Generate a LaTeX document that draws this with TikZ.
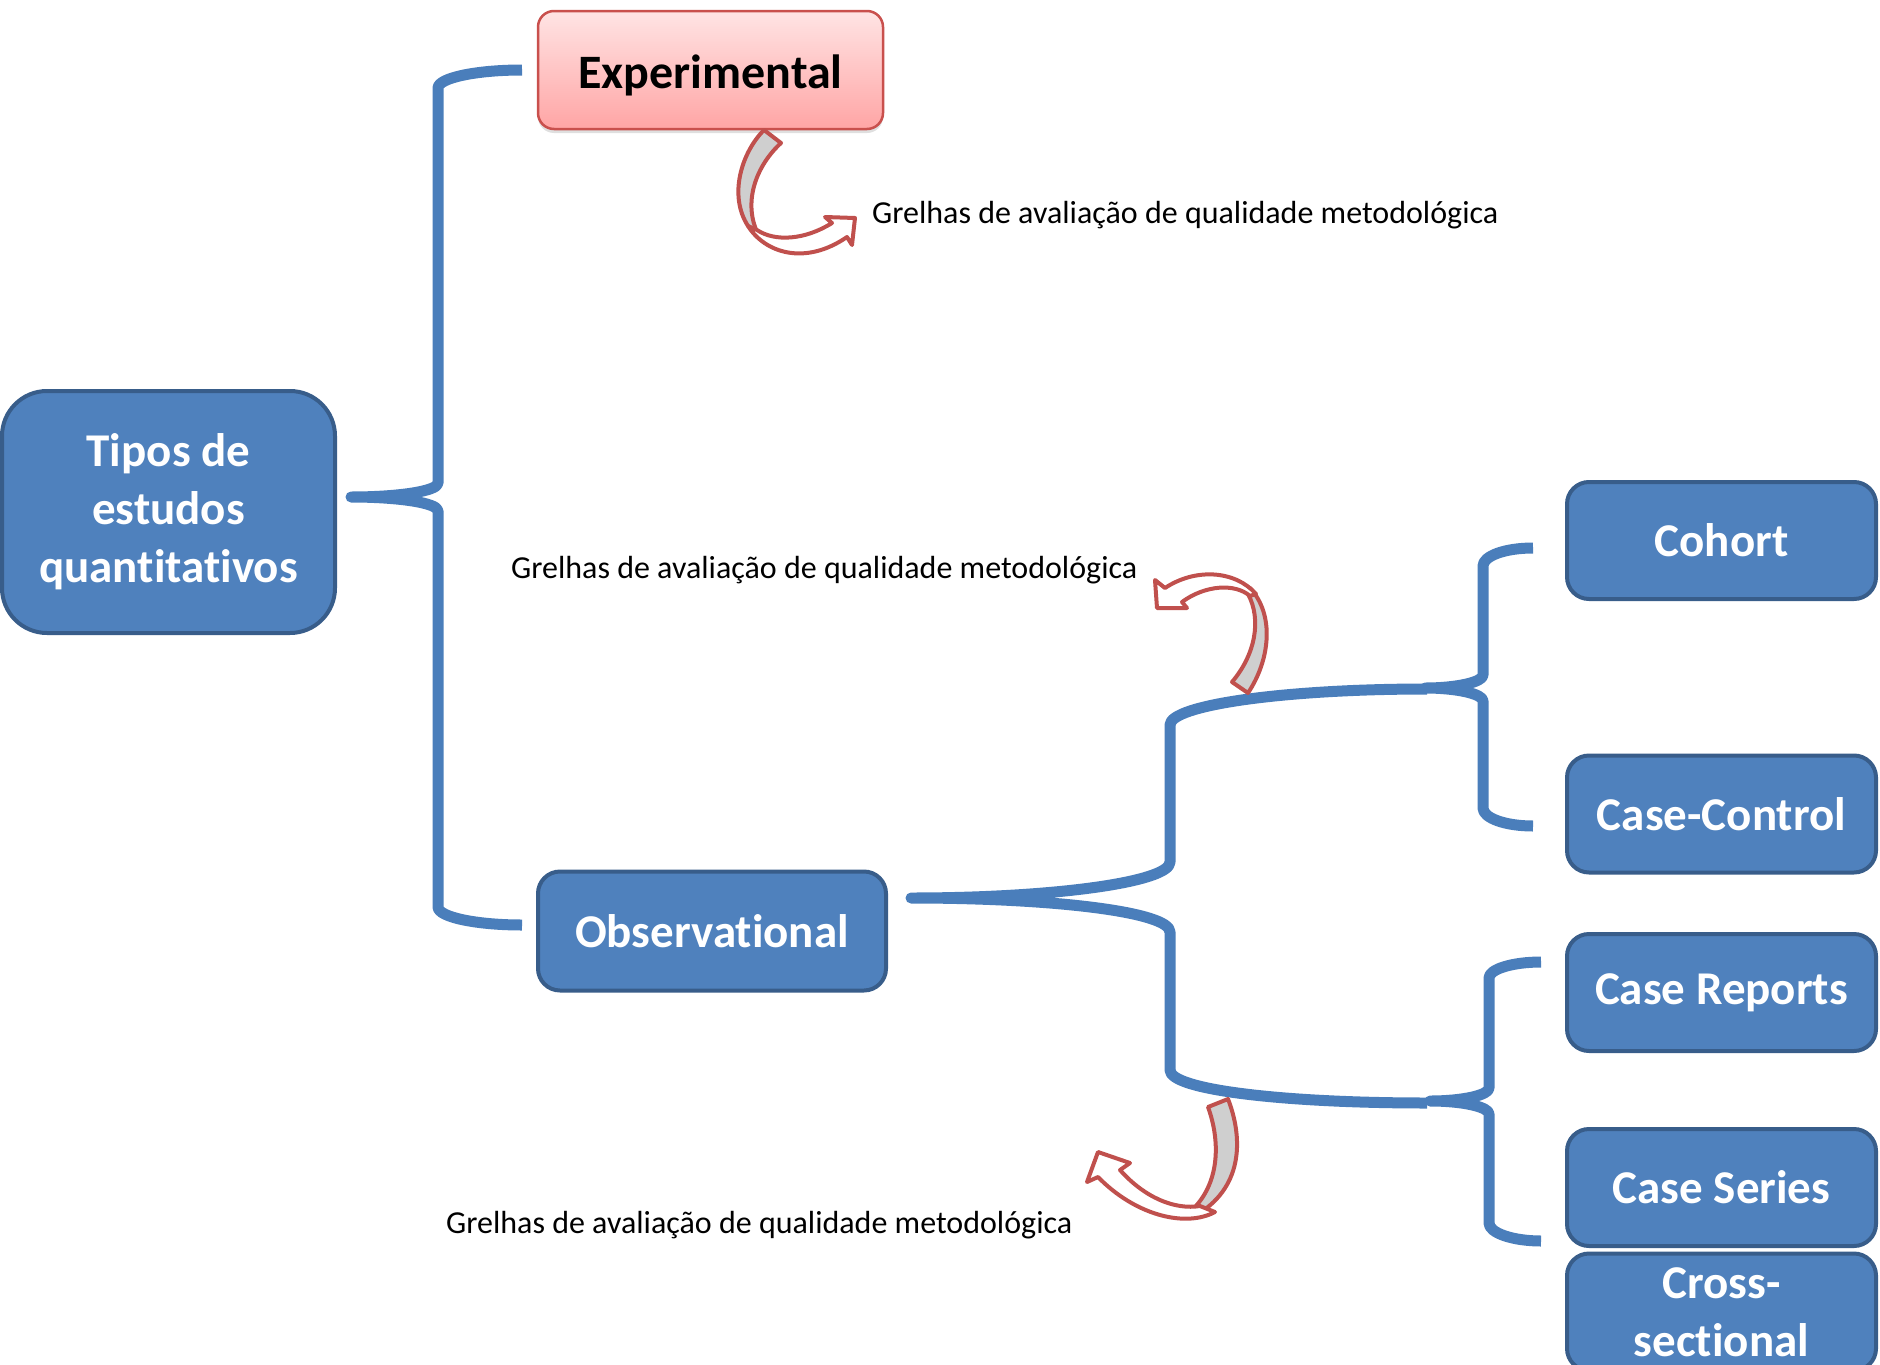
\documentclass[tikz,border=0pt]{standalone}
\usepackage{fontspec}
\setmainfont{Carlito}[Ligatures=NoCommon]
\usetikzlibrary{shadows}
\definecolor{boxfill}{HTML}{4F81BD}
\definecolor{boxedge}{HTML}{385D8A}
\definecolor{bracecol}{HTML}{4A7EBB}
\definecolor{arrred}{HTML}{C0504D}
\definecolor{arrgray}{HTML}{CFCFCF}
\definecolor{pinktop}{HTML}{FFE4E4}
\definecolor{pinkbot}{HTML}{FFA5A5}
\definecolor{pinkedge}{HTML}{C9504D}

\begin{document}
\begin{tikzpicture}[x=1pt,y=-1pt,
  studybox/.style={rectangle, rounded corners=22pt, draw=boxedge, line width=4pt,
    fill=boxfill, text=white, font=\bfseries\fontsize{47}{58}\selectfont,
    align=center, inner sep=0pt, minimum width=309pt, minimum height=117pt},
  brace/.style={draw=bracecol, line width=11pt, line join=round},
  arrback/.style={draw=arrred, fill=arrgray, line width=4pt, line join=round},
  arrfront/.style={draw=arrred, fill=white, line width=4pt, line join=round},
  note/.style={anchor=base west, inner sep=0pt, font=\fontsize{32}{38}\selectfont}]

\useasboundingbox (0,0) rectangle (1880,1365);
\fill[white] (0,0) rectangle (1880,1365);
\clip (0,0) rectangle (1880,1365);

% ---------- braces ----------
\coordinate (b1tip) at (351,497);
\coordinate (b2tip) at (911,898);
\coordinate (b3tip) at (1425,688);
\coordinate (b4tip) at (1430,1101);

% main brace: Experimental / Observational
\draw[brace] (522,70) .. controls (476,70) and (438,78) .. (438,88)
  -- (438,483) .. controls (438,491) and (399,497) .. (b1tip)
  .. controls (399,497) and (438,503) .. (438,511)
  -- (438,907) .. controls (438,917) and (476,925) .. (522,925);

% observational brace
\draw[brace] (1427,689) .. controls (1285,689) and (1170,705) .. (1170,725)
  -- (1170,862) .. controls (1170,882) and (1054,898) .. (b2tip)
  .. controls (1054,898) and (1170,912) .. (1170,932)
  -- (1170,1070) .. controls (1170,1090) and (1285,1103) .. (1427,1103);

% cohort / case-control brace
\draw[brace] (1533,548) .. controls (1505,548) and (1483,556) .. (1483,566)
  -- (1483,675) .. controls (1483,682) and (1457,688) .. (b3tip)
  .. controls (1457,688) and (1483,694) .. (1483,701)
  -- (1483,808) .. controls (1483,818) and (1505,826) .. (1533,826);

% case reports / case series brace
\draw[brace] (1541,962) .. controls (1513,962) and (1489,969) .. (1489,978)
  -- (1489,1088) .. controls (1489,1095) and (1463,1101) .. (b4tip)
  .. controls (1463,1101) and (1489,1107) .. (1489,1114)
  -- (1489,1223) .. controls (1489,1233) and (1513,1241) .. (1541,1241);

% ---------- boxes ----------
\node[studybox, rounded corners=45pt, minimum width=333pt, minimum height=242pt]
  (tipos) at (168.5,512) {Tipos de\\estudos\\quantitativos};
\node[studybox, rounded corners=16pt, draw=pinkedge, line width=2.5pt,
  top color=pinktop, bottom color=pinkbot,
  minimum width=345pt, minimum height=118pt,
  drop shadow={opacity=0.25, shadow xshift=0pt, shadow yshift=-4pt},
  label={[yshift=-5pt, text=black, font=\bfseries\fontsize{48}{58}\selectfont]center:Experimental}]
  (exp) at (710.5,70) {};
\node[studybox, minimum width=348pt, minimum height=119pt] (obs) at (712,931) {\raisebox{-2pt}{Observational}};
\node[studybox] (cohort) at (1721.5,540.5) {Cohort};
\node[studybox] (cc) at (1721.5,814) {Case-Control};
\node[studybox] (crep) at (1721.5,992.5) {Case Reports};
\node[studybox] (cser) at (1721.5,1187.5) {Case Series};
\node[studybox] (cross) at (1721.5,1312) {Cross-\\sectional};

% ---------- curved arrows ----------
% below Experimental
\draw[arrback] (764,130) -- (781,143) .. controls (757,165) and (743,200) .. (757,232)
  -- (748,226) .. controls (728,195) and (742,152) .. (764,130) -- cycle;
\draw[arrfront] (748,226) .. controls (765,253) and (805,266) .. (847,237)
  -- (852,245) -- (855,218) -- (825,217) -- (832,223)
  .. controls (805,240) and (775,242) .. (757,230) -- cycle;

% above the observational brace
\draw[arrback] (1232,682) -- (1248,693) .. controls (1270,660) and (1275,615) .. (1250,588)
  -- (1248,594) .. controls (1262,620) and (1255,655) .. (1232,682) -- cycle;
\draw[arrfront] (1256,594) .. controls (1235,570) and (1195,568) .. (1165,588)
  -- (1155,580) -- (1157,608) -- (1187,608) -- (1182,602)
  .. controls (1205,585) and (1235,583) .. (1250,596) -- cycle;

% below the observational brace
\draw[arrback] (1208,1107) -- (1228,1099) .. controls (1242,1135) and (1245,1185) .. (1198,1214)
  -- (1195,1207) .. controls (1220,1180) and (1220,1140) .. (1208,1107) -- cycle;
\draw[arrfront] (1215,1212) .. controls (1185,1228) and (1135,1215) .. (1098,1177)
  -- (1087,1182) -- (1098,1152) -- (1130,1163) -- (1120,1170)
  .. controls (1145,1198) and (1175,1210) .. (1200,1206) -- cycle;

% ---------- notes ----------
\node[note] (n1) at (872,223) {Grelhas de avaliação de qualidade metodológica};
\node[note] (n2) at (511,578) {Grelhas de avaliação de qualidade metodológica};
\node[note] (n3) at (446,1233) {Grelhas de avaliação de qualidade metodológica};

\end{tikzpicture}
\end{document}
